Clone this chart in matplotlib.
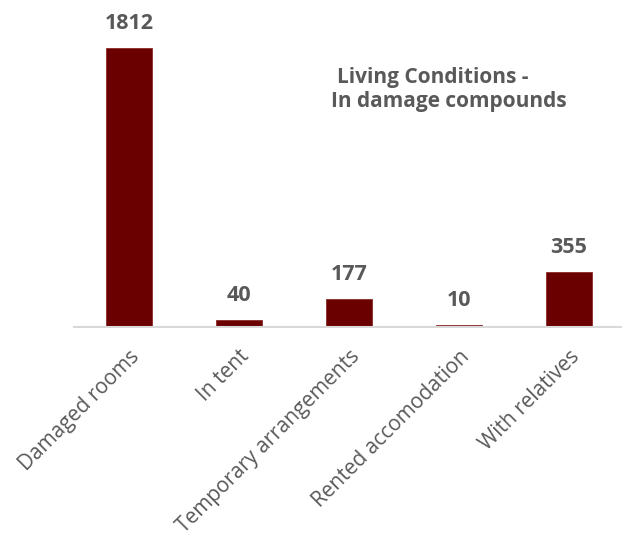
import matplotlib.pyplot as plt

categories = ["Damaged rooms", "In tent", "Temporary arrangements",
              "Rented accomodation", "With relatives"]
values = [1812, 40, 177, 10, 355]

plt.rcParams['font.family'] = ['Open Sans', 'DejaVu Sans']
GREY = '#595959'

fig = plt.figure(figsize=(6.22, 5.36), dpi=100)
ax = fig.add_axes([74 / 622, (536 - 326.5) / 536, 550 / 622, 326.5 / 536])

x = range(len(categories))
bars = ax.bar(x, values, width=0.41, color='#6B0000', edgecolor='#8a2a2a',
              linewidth=0.6)
for b, v in zip(bars, values):
    ax.annotate(str(v), (b.get_x() + b.get_width() / 2, v),
                xytext=(0, 10), textcoords='offset points',
                ha='center', va='bottom', fontsize=15.5, fontweight='bold',
                color=GREY)

ax.set_xlim(-0.5, len(categories) - 0.5)
ax.set_ylim(0, 2124)
ax.set_yticks([])
ax.set_xticks(list(x))
ax.set_xticklabels(categories, rotation=45, ha='right',
                   rotation_mode='anchor', fontsize=15, color=GREY)
ax.tick_params(axis='x', length=0, pad=14)
for s in ['top', 'right', 'left']:
    ax.spines[s].set_visible(False)
ax.spines['bottom'].set_color('#D9D9D9')
ax.spines['bottom'].set_linewidth(1.5)

# title, two lines centred a little apart as in the original
fig.text(433 / 622, 1 - 83 / 536, "Living Conditions -",
         ha='center', va='baseline', fontsize=15, fontweight='bold', color=GREY)
fig.text(449 / 622, 1 - 107 / 536, "In damage compounds",
         ha='center', va='baseline', fontsize=15, fontweight='bold', color=GREY)

fig.savefig('out.png', dpi=100)
